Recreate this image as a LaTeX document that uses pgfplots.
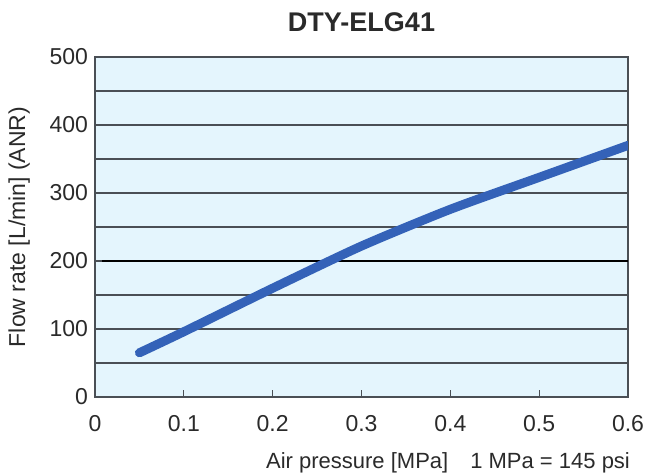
\documentclass[border=0pt]{standalone}
\usepackage{fontspec}
\setmainfont{Liberation Sans}
\usepackage{pgfplots}
\pgfplotsset{compat=1.18}
\definecolor{panel}{HTML}{E4F5FD}
\definecolor{curve}{HTML}{3462B8}
\definecolor{gridc}{HTML}{4A4F55}
\definecolor{txt}{HTML}{2A2A2A}
\begin{document}
\begin{tikzpicture}[x=0.5pt,y=0.5pt]
\begin{axis}[
    scale only axis,
    width=266.5pt, height=170pt,
    xmin=0, xmax=0.6, ymin=0, ymax=500,
    xtick={0,0.1,...,0.6},
    ytick={0,100,...,500},
    minor ytick={50,150,...,450},
    xticklabels={0,0.1,0.2,0.3,0.4,0.5,0.6},
    ymajorgrids, yminorgrids,
    grid style={gridc, line width=0.6pt},
    minor grid style={gridc, line width=0.6pt},
    extra y ticks={200},
    extra y tick labels={},
    extra y tick style={grid style={black, line width=0.9pt}},
    axis background/.style={fill=panel},
    axis line style={gridc, line width=0.7pt},
    tick style={gridc, line width=0.6pt},
    major tick length=3.5pt, minor tick length=0pt,
    tick align=inside,
    xtick pos=bottom, ytick pos=left,
    /pgf/number format/assume math mode=true,
    ticklabel style={font=\fontsize{11.5}{13}\selectfont, text=txt},
    xticklabel style={yshift=-5.5pt},
    title={\textbf{DTY-ELG41}},
    title style={font=\fontsize{13.5}{15}\selectfont, text=txt, yshift=3pt},
    xlabel={Air pressure [MPa]\quad 1 MPa = 145 psi},
    xlabel style={at={(rel axis cs:1,0)}, anchor=north east, yshift=-24pt, xshift=4.5pt,
        font=\fontsize{11}{13}\selectfont, text=txt},
    ylabel={Flow rate [L/min] (ANR)},
    ylabel style={font=\fontsize{11.5}{13}\selectfont, text=txt, yshift=3pt},
]
\addplot[curve, line width=4.5pt, line cap=round, line join=round, smooth, tension=0.4]
    coordinates {(0.05,65)(0.1,96)(0.2,160)(0.3,222)(0.4,276)(0.5,323)(0.6,370)};
\end{axis}
\pgfresetboundingbox
\path (current axis.south west) ++(-95,-77) rectangle (current axis.north east) ++(18,57);
\end{tikzpicture}
\end{document}
